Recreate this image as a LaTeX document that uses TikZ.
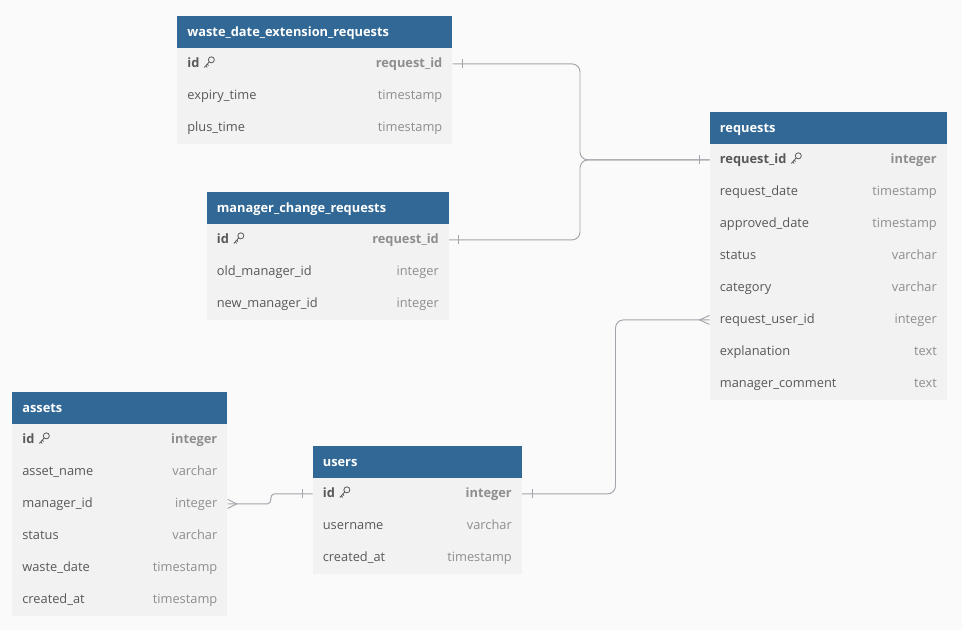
\documentclass[tikz,border=0pt]{standalone}
\usepackage{fontspec}
\setmainfont{Open Sans}
\usepackage{tikz}
\usetikzlibrary{positioning,calc}
\definecolor{hdrblue}{HTML}{316896}
\definecolor{rowgrey}{HTML}{F2F2F2}
\definecolor{bggrey}{HTML}{FAFAFA}
\definecolor{nametxt}{HTML}{585858}
\definecolor{typetxt}{HTML}{8E8E8E}
\definecolor{linkgrey}{HTML}{A4A4AC}
\newcommand{\fsz}{\fontsize{7.3}{9}\selectfont}

\tikzset{
  tblhead/.style={fill=hdrblue, anchor=north west, minimum height=0.63cm, inner sep=0pt},
  hdrtxt/.style={anchor=west, inner sep=0pt, text=white, font=\fsz\bfseries, text height=1.6ex, text depth=.45ex, yshift=0.4pt},
  tblrow/.style={fill=rowgrey, anchor=north west, minimum height=0.642cm, inner sep=0pt},
  fname/.style={anchor=west, inner sep=0pt, text=nametxt, font=\fsz, text height=1.6ex, text depth=.45ex, yshift=0.9pt},
  ftype/.style={anchor=east, inner sep=0pt, text=typetxt, font=\fsz, text height=1.6ex, text depth=.45ex, yshift=0.9pt},
  pkname/.style={fname, font=\fsz\bfseries},
  pktype/.style={ftype, font=\fsz\bfseries},
  rel/.style={draw=linkgrey, line width=0.55pt},
  keyicon/.pic={
    \draw[nametxt, line width=0.45pt] (2.6,-2.8) circle (0.06cm);
    \draw[nametxt, line width=0.45pt] (0.6,-0.8) -- (-4.4,4.8);
    \draw[nametxt, line width=0.45pt] (-3,3.3) -- (-1.5,4.8);
    \draw[nametxt, line width=0.45pt] (-1.5,1.6) -- (-0.2,3);
  }
}

\begin{document}
\begin{tikzpicture}[x=0.02cm, y=-0.02cm]
\fill[bggrey] (0,0) rectangle (962,630);

% waste_date_extension_requests
\node[tblhead, minimum width=5.5cm] (wder) at (177,16) {};
\node[hdrtxt] (wder-title) at ($(wder.west)+(10,0)$) {waste\_date\_extension\_requests};
\node[tblrow, minimum width=5.5cm] (wder-1) at (177,47.5) {};
\node[pkname] (wder-1-f) at ($(wder-1.west)+(10,0)$) {id};
\pic at ($(wder-1-f.east)+(9,0.3)$) {keyicon};
\node[pktype] (wder-1-t) at ($(wder-1.east)+(-10,0)$) {request\_id};
\foreach \i/\f/\t in {2/expiry\_time/timestamp, 3/plus\_time/timestamp} {
  \node[tblrow, minimum width=5.5cm] (wder-\i) at (177,{47.5+32*(\i-1)}) {};
  \node[fname] (wder-\i-f) at ($(wder-\i.west)+(10,0)$) {\f};
  \node[ftype] (wder-\i-t) at ($(wder-\i.east)+(-10,0)$) {\t};
}

% manager_change_requests
\node[tblhead, minimum width=4.84cm] (mcr) at (206.5,192) {};
\node[hdrtxt] (mcr-title) at ($(mcr.west)+(10,0)$) {manager\_change\_requests};
\node[tblrow, minimum width=4.84cm] (mcr-1) at (206.5,223.5) {};
\node[pkname] (mcr-1-f) at ($(mcr-1.west)+(10,0)$) {id};
\pic at ($(mcr-1-f.east)+(9,0.3)$) {keyicon};
\node[pktype] (mcr-1-t) at ($(mcr-1.east)+(-10,0)$) {request\_id};
\foreach \i/\f/\t in {2/old\_manager\_id/integer, 3/new\_manager\_id/integer} {
  \node[tblrow, minimum width=4.84cm] (mcr-\i) at (206.5,{223.5+32*(\i-1)}) {};
  \node[fname] (mcr-\i-f) at ($(mcr-\i.west)+(10,0)$) {\f};
  \node[ftype] (mcr-\i-t) at ($(mcr-\i.east)+(-10,0)$) {\t};
}

% requests
\node[tblhead, minimum width=4.74cm] (req) at (709.5,112) {};
\node[hdrtxt] (req-title) at ($(req.west)+(10,0)$) {requests};
\node[tblrow, minimum width=4.74cm] (req-1) at (709.5,143.5) {};
\node[pkname] (req-1-f) at ($(req-1.west)+(10,0)$) {request\_id};
\pic at ($(req-1-f.east)+(9,0.3)$) {keyicon};
\node[pktype] (req-1-t) at ($(req-1.east)+(-10,0)$) {integer};
\foreach \i/\f/\t in {2/request\_date/timestamp, 3/approved\_date/timestamp,
    4/status/varchar, 5/category/varchar, 6/request\_user\_id/integer,
    7/explanation/text, 8/manager\_comment/text} {
  \node[tblrow, minimum width=4.74cm] (req-\i) at (709.5,{143.5+32*(\i-1)}) {};
  \node[fname] (req-\i-f) at ($(req-\i.west)+(10,0)$) {\f};
  \node[ftype] (req-\i-t) at ($(req-\i.east)+(-10,0)$) {\t};
}

% assets
\node[tblhead, minimum width=4.3cm] (ast) at (12,392) {};
\node[hdrtxt] (ast-title) at ($(ast.west)+(10,0)$) {assets};
\node[tblrow, minimum width=4.3cm] (ast-1) at (12,423.5) {};
\node[pkname] (ast-1-f) at ($(ast-1.west)+(10,0)$) {id};
\pic at ($(ast-1-f.east)+(9,0.3)$) {keyicon};
\node[pktype] (ast-1-t) at ($(ast-1.east)+(-10,0)$) {integer};
\foreach \i/\f/\t in {2/asset\_name/varchar, 3/manager\_id/integer, 4/status/varchar,
    5/waste\_date/timestamp, 6/created\_at/timestamp} {
  \node[tblrow, minimum width=4.3cm] (ast-\i) at (12,{423.5+32*(\i-1)}) {};
  \node[fname] (ast-\i-f) at ($(ast-\i.west)+(10,0)$) {\f};
  \node[ftype] (ast-\i-t) at ($(ast-\i.east)+(-10,0)$) {\t};
}

% users
\node[tblhead, minimum width=4.18cm] (usr) at (312.5,446) {};
\node[hdrtxt] (usr-title) at ($(usr.west)+(10,0)$) {users};
\node[tblrow, minimum width=4.18cm] (usr-1) at (312.5,477.5) {};
\node[pkname] (usr-1-f) at ($(usr-1.west)+(10,0)$) {id};
\pic at ($(usr-1-f.east)+(9,0.3)$) {keyicon};
\node[pktype] (usr-1-t) at ($(usr-1.east)+(-10,0)$) {integer};
\foreach \i/\f/\t in {2/username/varchar, 3/created\_at/timestamp} {
  \node[tblrow, minimum width=4.18cm] (usr-\i) at (312.5,{477.5+32*(\i-1)}) {};
  \node[fname] (usr-\i-f) at ($(usr-\i.west)+(10,0)$) {\f};
  \node[ftype] (usr-\i-t) at ($(usr-\i.east)+(-10,0)$) {\t};
}

% relations
\coordinate (jn) at (580,0);
\coordinate (jv) at (615.5,0);
\draw[rel, rounded corners=0.16cm] (wder-1.east) -- (wder-1.east -| jn) -- (req-1.west -| jn) -- (req-1.west);
\draw[rel, rounded corners=0.16cm] (mcr-1.east) -- (mcr-1.east -| jn) -- (req-1.west -| jn) -- (req-1.west);
\draw[rel, rounded corners=0.16cm] (usr-1.east) -- (usr-1.east -| jv) -- (req-6.west -| jv) -- (req-6.west);
\draw[rel] (ast-3.east) -- ++(40,0) .. controls +(5,0) and +(-5,0) .. ($(usr-1.west)+(-38.5,0)$) -- (usr-1.west);
% one-bars
\draw[rel] ($(wder-1.east)+(9.5,-4.5)$) -- ++(0,9);
\draw[rel] ($(mcr-1.east)+(9.5,-4.5)$) -- ++(0,9);
\draw[rel] ($(req-1.west)+(-10,-4.5)$) -- ++(0,9);
\draw[rel] ($(usr-1.east)+(10,-4.5)$) -- ++(0,9);
\draw[rel] ($(usr-1.west)+(-10,-4.5)$) -- ++(0,9);
% crow's feet
\draw[rel] ($(req-6.west)+(0,-4.5)$) -- ($(req-6.west)+(-10,0)$) -- ($(req-6.west)+(0,4.5)$);
\draw[rel] ($(ast-3.east)+(0,-4.5)$) -- ($(ast-3.east)+(9,0)$) -- ($(ast-3.east)+(0,4.5)$);
\end{tikzpicture}
\end{document}
